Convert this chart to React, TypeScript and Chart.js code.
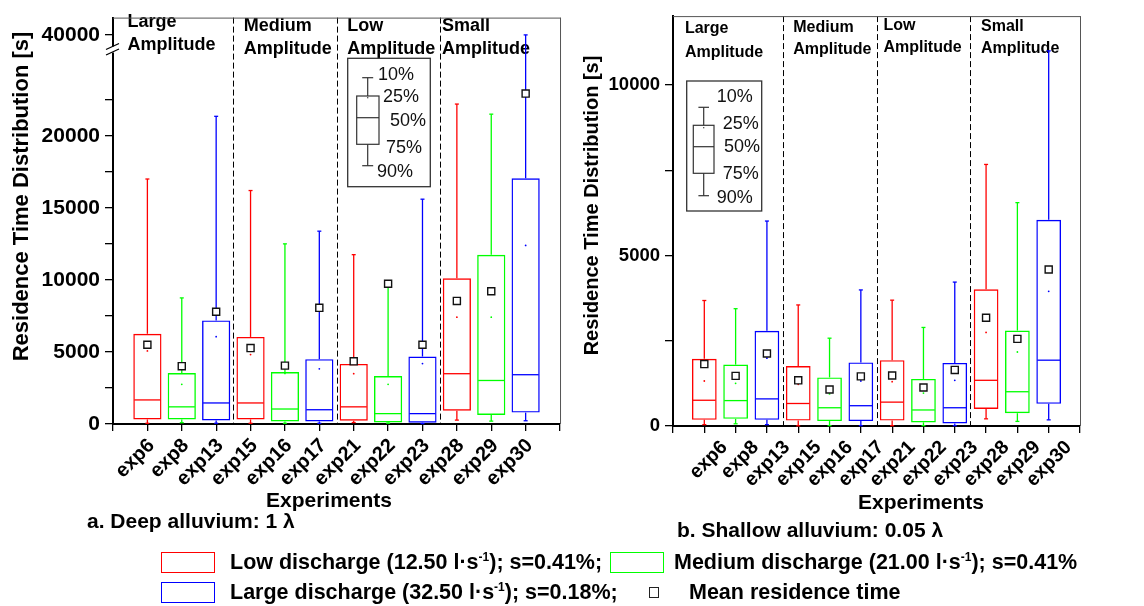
import { useEffect, useRef } from 'react';
import { Chart, LinearScale, registerables } from 'chart.js';

Chart.register(...registerables);

const FONT = "'Liberation Sans', Arial, Helvetica, sans-serif";

// Experiments along the x axis
const experiments = ['exp6', 'exp8', 'exp13', 'exp15', 'exp16', 'exp17', 'exp21', 'exp22', 'exp23', 'exp28', 'exp29', 'exp30'];
// Discharge class of each experiment: 0 = low, 1 = medium, 2 = large
const dischargeClass = [0, 1, 2, 0, 1, 2, 0, 1, 2, 0, 1, 2];
const dischargeNames = ['Low discharge', 'Medium discharge', 'Large discharge'];
const dischargeColors = ['#ff0000', '#00ff00', '#0000ff'];
const amplitudeNames = ['Large', 'Medium', 'Low', 'Small'];
// Dashed separators between amplitude groups (axis index units)
const groupBoundaries = [3.5, 6.5, 9.5];
const keyLabels = ['10%', '25%', '50%', '75%', '90%'];

// a. Deep alluvium: 1 λ — residence time distribution [s]
const deepWhiskerTop = [17000, 8750, 21350, 16200, 12500, 13380, 11750, 9550, 15600, 22200, 21500, 40000];
const deepBoxTop = [6260, 3540, 7190, 6040, 3600, 4500, 4170, 3330, 4680, 10110, 11740, 17050];
const deepMedian = [1670, 1190, 1460, 1460, 1040, 990, 1190, 720, 720, 3490, 3020, 3420];
const deepBoxBottom = [315, 315, 250, 315, 180, 180, 225, 110, 90, 920, 630, 790];
const deepWhiskerBottom = [50, 90, 50, 50, 50, 50, 100, 60, 30, 270, 200, 225];
const deepMean = [5500, 4010, 7790, 5270, 4050, 8060, 4350, 9730, 5500, 8540, 9210, 22930];
const deepInner = [5070, 2750, 6060, 4820, 3510, 3830, 3490, 2750, 4190, 7410, 7410, 12390];
const deepTicks = [0, 2500, 5000, 7500, 10000, 12500, 15000, 17500, 20000, 22500, 40000];
const deepTickLabels = ['0', '', '5000', '', '10000', '', '15000', '', '20000', '', '40000'];
const deepBreak = [25300, 38300];
const deepMax = 41200;

// b. Shallow alluvium: 0.05 λ — residence time distribution [s]
const shallowWhiskerTop = [3680, 3440, 6010, 3550, 2575, 3990, 3690, 2890, 4220, 7670, 6550, 11000];
const shallowBoxTop = [1970, 1800, 2790, 1760, 1425, 1865, 1930, 1380, 1850, 4010, 2800, 6045];
const shallowMedian = [755, 745, 795, 660, 535, 595, 700, 470, 535, 1340, 1005, 1930];
const shallowBoxBottom = [180, 210, 180, 160, 145, 145, 160, 105, 75, 500, 375, 650];
const shallowWhiskerBottom = [40, 65, 40, 5, 10, 10, 10, 10, 10, 210, 135, 180];
const shallowMean = [1815, 1470, 2125, 1340, 1070, 1455, 1480, 1130, 1645, 3175, 2555, 4590];
const shallowInner = [1320, 1250, 1990, 1225, 940, 1320, 1300, 965, 1340, 2745, 2170, 3950];
const shallowTicks = [0, 2500, 5000, 7500, 10000];
const shallowTickLabels = ['0', '', '5000', '', '10000'];
const shallowMax = 12020;

// Linear scale with the band between deepBreak[0] and deepBreak[1] cut out
class BrokenLinearScale extends LinearScale {
  static id = 'brokenLinear';
  static defaults = {};
  squeeze(v: number) {
    const [from, to] = deepBreak;
    if (v <= from) return v;
    if (v >= to) return v - (to - from);
    return from;
  }
  getPixelForValue(value: number) {
    if (value === null || value === undefined || Number.isNaN(value)) return NaN;
    const lo = this.squeeze((this as any).min);
    const hi = this.squeeze((this as any).max);
    return (this as any).getPixelForDecimal((this.squeeze(value) - lo) / (hi - lo));
  }
  getValueForPixel(pixel: number) {
    const lo = this.squeeze((this as any).min);
    const hi = this.squeeze((this as any).max);
    const s = lo + (this as any).getDecimalForPixel(pixel) * (hi - lo);
    return s > deepBreak[0] ? s + (deepBreak[1] - deepBreak[0]) : s;
  }
}
Chart.register(BrokenLinearScale as any);

type Panel = {
  whiskerTop: number[]; boxTop: number[]; median: number[]; boxBottom: number[];
  whiskerBottom: number[]; mean: number[]; inner: number[];
  yType: string; yMax: number; ticks: number[]; tickLabels: string[];
  canvasW: number; canvasH: number;
  area: { left: number; right: number; top: number; bottom: number };
  barPct: number; tickFont: number; xTickFont: number; xLabelOffset: number;
  titleFont: number; headerFont: number;
  yTitle: [number, number]; xTitle: [number, number];
  headers: { u: number; y1: number; y2: number }[];
  key: {
    frame: number[]; stemX: number; capHalf: number; capTop: number; capBottom: number;
    boxL: number; boxR: number; boxTop: number; boxBottom: number; median: number; dotY: number;
    labels: number[][];
  };
  breakMark?: [number, number];
};

const deepPanel: Panel = {
  whiskerTop: deepWhiskerTop, boxTop: deepBoxTop, median: deepMedian, boxBottom: deepBoxBottom,
  whiskerBottom: deepWhiskerBottom, mean: deepMean, inner: deepInner,
  yType: 'brokenLinear', yMax: deepMax, ticks: deepTicks, tickLabels: deepTickLabels,
  canvasW: 580, canvasH: 540,
  area: { left: 113, right: 571, top: 7, bottom: 424 },
  barPct: 0.82, tickFont: 21, xTickFont: 20, xLabelOffset: 4, titleFont: 22, headerFont: 18,
  yTitle: [21.5, 196.5], xTitle: [329, 507],
  headers: [
    { u: 0.42, y1: 26.7, y2: 50 },
    { u: 3.8, y1: 30.7, y2: 54 },
    { u: 6.81, y1: 30.7, y2: 54 },
    { u: 9.57, y1: 30.7, y2: 54 },
  ],
  key: {
    frame: [347.7, 58.3, 430.3, 186.7], stemX: 367.7, capHalf: 5.5, capTop: 77.7, capBottom: 165.7,
    boxL: 356.7, boxR: 379, boxTop: 96, boxBottom: 144.3, median: 117.7, dotY: 97.7,
    labels: [[378, 80], [383, 102], [390, 126], [386, 152.7], [377, 176.7]],
  },
  breakMark: [113, 50],
};

const shallowPanel: Panel = {
  whiskerTop: shallowWhiskerTop, boxTop: shallowBoxTop, median: shallowMedian, boxBottom: shallowBoxBottom,
  whiskerBottom: shallowWhiskerBottom, mean: shallowMean, inner: shallowInner,
  yType: 'linear', yMax: shallowMax, ticks: shallowTicks, tickLabels: shallowTickLabels,
  canvasW: 564, canvasH: 540,
  area: { left: 93, right: 500, top: 7, bottom: 426 },
  barPct: 0.79, tickFont: 18.5, xTickFont: 19.5, xLabelOffset: 20, titleFont: 20, headerFont: 16,
  yTitle: [12.5, 205.5], xTitle: [341, 509],
  headers: [
    { u: 0.38, y1: 32.7, y2: 56.7 },
    { u: 3.84, y1: 32.3, y2: 54.3 },
    { u: 6.72, y1: 30, y2: 52.3 },
    { u: 9.84, y1: 30.7, y2: 53.3 },
  ],
  key: {
    frame: [106.7, 81, 181.7, 211], stemX: 123.7, capHalf: 5.3, capTop: 107.3, capBottom: 195.7,
    boxL: 113.3, boxR: 134, boxTop: 125.3, boxBottom: 173.3, median: 146.7, dotY: 127.7,
    labels: [[136.7, 102.3], [142.7, 129], [144, 152.3], [142.7, 179], [136.7, 203.3]],
  },
};

function seg(ctx: CanvasRenderingContext2D, x1: number, y1: number, x2: number, y2: number) {
  ctx.beginPath();
  ctx.moveTo(x1, y1);
  ctx.lineTo(x2, y2);
  ctx.stroke();
}

function panelPlugin(p: Panel) {
  return {
    id: 'panelDecor',
    beforeDatasetsDraw(chart: any) {
      const { ctx, chartArea: a } = chart;
      const xs = chart.scales.x;
      const ys = chart.scales.y;
      ctx.save();
      // amplitude group headers
      ctx.fillStyle = '#000';
      ctx.font = `bold ${p.headerFont}px ${FONT}`;
      ctx.textAlign = 'left';
      ctx.textBaseline = 'alphabetic';
      p.headers.forEach((h, i) => {
        const x = xs.getPixelForValue(h.u);
        ctx.fillText(amplitudeNames[i], x, h.y1);
        ctx.fillText('Amplitude', x, h.y2);
      });
      // group separators
      ctx.strokeStyle = '#000';
      ctx.lineWidth = 1;
      ctx.setLineDash([6, 3]);
      groupBoundaries.forEach((u) => {
        const x = Math.round(xs.getPixelForValue(u)) + 0.5;
        seg(ctx, x, a.top, x, a.bottom);
      });
      ctx.setLineDash([]);
      // whiskers, caps and medians
      experiments.forEach((_, k) => {
        const c = dischargeClass[k];
        const bar = chart.getDatasetMeta(2 + c).data[k + 1];
        const x = bar.x;
        const half = bar.width / 2;
        ctx.strokeStyle = dischargeColors[c];
        ctx.lineWidth = 1.3;
        const yWT = ys.getPixelForValue(p.whiskerTop[k]);
        const yBT = ys.getPixelForValue(p.boxTop[k]);
        const yBB = ys.getPixelForValue(p.boxBottom[k]);
        const yWB = ys.getPixelForValue(p.whiskerBottom[k]);
        const yMd = ys.getPixelForValue(p.median[k]);
        seg(ctx, x, yBT, x, yWT);
        seg(ctx, x - 2, yWT, x + 2, yWT);
        seg(ctx, x, yBB, x, yWB);
        seg(ctx, x - 2, yWB, x + 2, yWB);
        seg(ctx, x - half + 1, yMd, x + half - 1, yMd);
      });
      ctx.restore();
    },
    afterDraw(chart: any) {
      const { ctx, chartArea: a } = chart;
      ctx.save();
      // top and right frame
      ctx.strokeStyle = '#555';
      ctx.lineWidth = 1;
      seg(ctx, a.left, a.top + 0.5, a.right + 0.5, a.top + 0.5);
      seg(ctx, a.right + 0.5, a.top, a.right + 0.5, a.bottom);

      // axis break marks
      if (p.breakMark) {
        const [bx, by] = p.breakMark;
        ctx.fillStyle = '#fff';
        ctx.fillRect(bx - 2, by - 3.5, 4, 6);
        ctx.strokeStyle = '#000';
        ctx.lineWidth = 1.3;
        seg(ctx, bx - 7, by - 0.5, bx + 6, by - 6.5);
        seg(ctx, bx - 7, by + 5, bx + 6, by - 1);
      }

      // percentile key
      const k = p.key;
      const [fl, ft, fr, fb] = k.frame;
      ctx.fillStyle = '#fff';
      ctx.fillRect(fl, ft, fr - fl, fb - ft);
      ctx.strokeStyle = '#333';
      ctx.lineWidth = 1.3;
      ctx.strokeRect(fl, ft, fr - fl, fb - ft);
      ctx.lineWidth = 1.2;
      seg(ctx, k.stemX, k.capTop, k.stemX, k.boxTop);
      seg(ctx, k.stemX, k.boxBottom, k.stemX, k.capBottom);
      seg(ctx, k.stemX - k.capHalf, k.capTop, k.stemX + k.capHalf, k.capTop);
      seg(ctx, k.stemX - k.capHalf, k.capBottom, k.stemX + k.capHalf, k.capBottom);
      ctx.strokeRect(k.boxL, k.boxTop, k.boxR - k.boxL, k.boxBottom - k.boxTop);
      seg(ctx, k.boxL, k.median, k.boxR, k.median);
      ctx.fillStyle = '#333';
      ctx.fillRect(k.stemX - 0.6, k.dotY - 0.6, 1.2, 1.2);
      ctx.fillStyle = '#111';
      ctx.font = `18px ${FONT}`;
      ctx.textAlign = 'left';
      ctx.textBaseline = 'alphabetic';
      keyLabels.forEach((t, i) => ctx.fillText(t, k.labels[i][0], k.labels[i][1]));

      // axis titles
      ctx.fillStyle = '#000';
      ctx.font = `bold ${p.titleFont}px ${FONT}`;
      ctx.save();
      ctx.translate(p.yTitle[0], p.yTitle[1]);
      ctx.rotate(-Math.PI / 2);
      ctx.textAlign = 'center';
      ctx.textBaseline = 'middle';
      ctx.fillText('Residence Time Distribution [s]', 0, 0);
      ctx.restore();
      ctx.font = `bold 21px ${FONT}`;
      ctx.textAlign = 'center';
      ctx.textBaseline = 'alphabetic';
      ctx.fillText('Experiments', p.xTitle[0], p.xTitle[1]);
      ctx.restore();
    },
  };
}

function padEnds(arr: any[]) {
  return [null, ...arr, null];
}

function buildChart(canvas: HTMLCanvasElement, p: Panel) {
  const axisLabels = ['', ...experiments, ' '];
  const boxes = dischargeColors.map((color, c) => ({
    type: 'bar',
    label: dischargeNames[c],
    data: padEnds(experiments.map((_, k) => (dischargeClass[k] === c ? [p.boxBottom[k], p.boxTop[k]] : null))),
    backgroundColor: 'rgba(0,0,0,0)',
    borderColor: color,
    borderWidth: 1.4,
    borderSkipped: false,
    grouped: false,
    barPercentage: p.barPct,
    categoryPercentage: 1,
    order: 3,
  }));
  const means = {
    type: 'line',
    label: 'Mean residence time',
    data: padEnds(p.mean),
    showLine: false,
    pointStyle: 'rect',
    pointRadius: 5,
    pointBackgroundColor: '#ffffff',
    pointBorderColor: '#111111',
    pointBorderWidth: 1.4,
    order: 0,
  };
  const inner = {
    type: 'line',
    label: 'inner',
    data: padEnds(p.inner),
    showLine: false,
    pointRadius: 0.9,
    pointBorderWidth: 0,
    pointBackgroundColor: padEnds(dischargeClass.map((c) => dischargeColors[c])).map((v) => v || 'transparent'),
    order: 1,
  };
  return new Chart(canvas, {
    type: 'bar',
    data: { labels: axisLabels, datasets: [means, inner, ...boxes] as any },
    options: {
      responsive: false,
      animation: false,
      events: [],
      layout: {
        autoPadding: false,
        padding: { left: 0, top: p.area.top, right: p.canvasW - p.area.right, bottom: 0 },
      },
      plugins: { legend: { display: false }, tooltip: { enabled: false } },
      scales: {
        x: {
          type: 'category',
          offset: false,
          grid: { display: true, offset: false, drawOnChartArea: false, drawTicks: true, tickLength: 7, color: '#000', lineWidth: 1.3 },
          border: { display: true, color: '#000', width: 2 },
          ticks: {
            autoSkip: false, maxRotation: 45, minRotation: 45, padding: 3, color: '#000',
            labelOffset: p.xLabelOffset,
            font: { family: FONT, size: p.xTickFont, weight: 'bold' },
          },
          afterFit: (s: any) => { s.height = p.canvasH - p.area.bottom; },
        },
        y: {
          type: p.yType as any,
          min: 0,
          max: p.yMax,
          afterBuildTicks: (s: any) => { s.ticks = p.ticks.map((v) => ({ value: v })); },
          grid: { display: true, drawOnChartArea: false, drawTicks: true, tickLength: 8, color: '#000', lineWidth: 1.3 },
          border: { display: true, color: '#000', width: 2 },
          ticks: {
            autoSkip: false, padding: 5, color: '#000',
            font: { family: FONT, size: p.tickFont, weight: 'bold' },
            callback: (v: any) => {
              const i = p.ticks.indexOf(Number(v));
              return i >= 0 ? p.tickLabels[i] : '';
            },
          },
          afterFit: (s: any) => { s.width = p.area.left; },
        },
      },
    } as any,
    plugins: [panelPlugin(p)],
  });
}

function BoxPanel({ panel, left }: { panel: Panel; left: number }) {
  const ref = useRef<HTMLCanvasElement>(null);
  useEffect(() => {
    const chart = buildChart(ref.current as HTMLCanvasElement, panel);
    return () => chart.destroy();
  }, [panel]);
  return (
    <canvas
      ref={ref}
      width={panel.canvasW}
      height={panel.canvasH}
      style={{ position: 'absolute', left, top: 0, width: panel.canvasW, height: panel.canvasH }}
    />
  );
}

function Txt({ x, baseline, size, children }: { x: number; baseline: number; size: number; children: any }) {
  return (
    <div
      style={{
        position: 'absolute', left: x, top: baseline - 0.8465 * size, fontSize: size,
        lineHeight: `${size}px`, fontWeight: 'bold', whiteSpace: 'nowrap', color: '#000',
      }}
    >
      {children}
    </div>
  );
}

const Sup = () => (
  <span style={{ fontSize: 12, position: 'relative', top: -8, lineHeight: 0 }}>-1</span>
);

function Swatch({ x, y, color }: { x: number; y: number; color: string }) {
  return (
    <div
      style={{
        position: 'absolute', left: x, top: y, width: 54, height: 21,
        border: `1.5px solid ${color}`, boxSizing: 'border-box',
      }}
    />
  );
}

export default function App() {
  const lf = 21.5;
  return (
    <div
      style={{
        position: 'absolute', left: 0, top: 0, width: 1144, height: 606,
        background: '#fff', fontFamily: FONT, overflow: 'hidden',
      }}
    >
      <BoxPanel panel={deepPanel} left={0} />
      <BoxPanel panel={shallowPanel} left={580} />

      <Txt x={87} baseline={528} size={21}>a. Deep alluvium: 1 λ</Txt>
      <Txt x={677} baseline={537} size={21}>b. Shallow alluvium: 0.05 λ</Txt>

      <Swatch x={161} y={551.5} color={dischargeColors[0]} />
      <Txt x={230} baseline={569.7} size={lf}>
        {dischargeNames[0]} (12.50 l·s<Sup />); s=0.41%;
      </Txt>
      <Swatch x={610} y={551.5} color={dischargeColors[1]} />
      <Txt x={674} baseline={569.7} size={lf}>
        {dischargeNames[1]} (21.00 l·s<Sup />); s=0.41%
      </Txt>

      <Swatch x={161} y={581.5} color={dischargeColors[2]} />
      <Txt x={230} baseline={599.7} size={lf}>
        {dischargeNames[2]} (32.50 l·s<Sup />); s=0.18%;
      </Txt>
      <div
        style={{
          position: 'absolute', left: 649, top: 587, width: 10, height: 11,
          border: '1.2px solid #222', boxSizing: 'border-box', background: '#fff',
        }}
      />
      <Txt x={689} baseline={599.7} size={lf}>Mean residence time</Txt>
    </div>
  );
}
